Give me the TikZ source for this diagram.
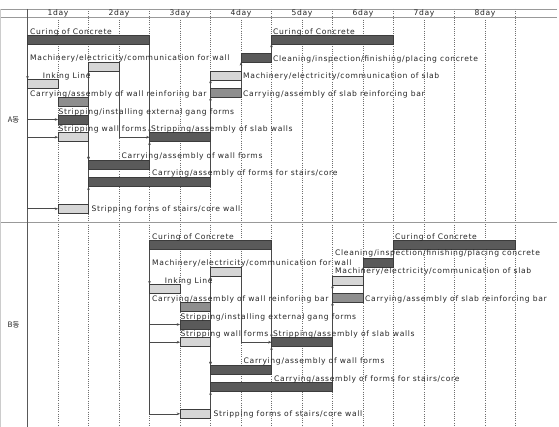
\documentclass[tikz,border=0pt]{standalone}
\usepackage{fontspec}
\setmainfont{DejaVu Sans}[LetterSpace=9]
\newfontfamily\krfont{Noto Sans CJK KR}
\usetikzlibrary{arrows.meta}
\definecolor{darkbar}{HTML}{5A5A5A}
\definecolor{midbar}{HTML}{8E8E8E}
\definecolor{lightbar}{HTML}{D6D6D6}
\definecolor{edgec}{HTML}{3C3C3C}
\definecolor{gridc}{HTML}{6E6E6E}
\definecolor{txtc}{HTML}{262626}
\definecolor{connc}{HTML}{4A4A4A}

\newcommand\gbar[5]{\node[taskbar,#5,minimum width={(#3-#2)*61pt},anchor=north west] (#1) at ({27.5+61*#2},#4) {};}
\newcommand\glabel[4]{\node[lbl] (#1) at (#2,#3) {#4};}

\newcommand\ganttconnectors{%
  \draw[conn] (machwall.south west) -- (stripstairs.east);
  \draw[conn] (curing1.south east) -- (wallforms.east);
  \draw[conn] (machslab.south west) -- (stairforms.east);
  \draw[conn] (cleaning.south west) -- (slabreinf.east);
  \draw[arr] (curing1.south west) -- (inking.north west);
  \draw[arr] (curing1.south west) |- (stripext.west);
  \draw[arr] (curing1.south west) |- (stripwall.west);
  \draw[arr] (curing1.south west) |- (stripstairs.west);
  \draw[arr] (wallreinf.north east) -- (machwall.south west);
  \draw[arr] (stripext.south east) -- (wallforms.north west);
  \draw[arr] (stripwall.south east) -- (wallforms.north west);
  \draw[arr] (stripstairs.east) -- (stairforms.south west);
  \draw[arr] (machwall.south east) |- (slabwalls.west);
  \draw[arr] (curing1.south east) -- (slabwalls.north west);
  \draw[arr] (wallforms.east) -- (slabwalls.south west);
  \draw[arr] (slabwalls.east) -- (machslab.south west);
  \draw[arr] (slabwalls.north east) -- (slabreinf.south west);
  \draw[arr] (slabreinf.east) -- (cleaning.south west);
  \draw[arr] (cleaning.south east) -- (curing2.south west);
}
\newcommand\ganttbars{%
  \gbar{curing1}{0}{2}{35}{darkfill}
  \gbar{curing2}{4}{6}{35}{darkfill}
  \gbar{cleaning}{3.5}{4}{53.3}{darkfill}
  \gbar{machwall}{1}{1.5}{62.3}{lightfill}
  \gbar{machslab}{3}{3.5}{71}{lightfill}
  \gbar{inking}{0}{0.5}{79.3}{lightfill}
  \gbar{slabreinf}{3}{3.5}{88.3}{midfill}
  \gbar{wallreinf}{0.5}{1}{97.3}{midfill}
  \gbar{stripext}{0.5}{1}{115}{darkfill}
  \gbar{stripwall}{0.5}{1}{132.7}{lightfill}
  \gbar{slabwalls}{2}{3}{132.7}{darkfill}
  \gbar{wallforms}{1}{2}{160}{darkfill}
  \gbar{stairforms}{1}{3}{177.7}{darkfill}
  \gbar{stripstairs}{0.5}{1}{204.3}{lightfill}
}
\newcommand\ganttlabels{%
  \glabel{l-curing1}{30}{34.3}{Curing of Concrete}
  \glabel{l-curing2}{273}{34.3}{Curing of Concrete}
  \glabel{l-machwall}{30}{61}{Machinery/electricity/communication for wall}
  \glabel{l-inking}{42.7}{79}{Inking Line}
  \glabel{l-wallreinf}{30}{96.5}{Carrying/assembly of wall reinforing bar}
  \glabel{l-stripext}{58.5}{114.5}{Stripping/installing external gang forms}
  \glabel{l-stripwall}{58.5}{132}{Stripping wall forms}
  \glabel{l-slabwalls}{151}{132}{Stripping/assembly of slab walls}
  \glabel{l-wallforms}{121.5}{158.3}{Carrying/assembly of wall forms}
  \glabel{l-stairforms}{152}{176}{Carrying/assembly of forms for stairs/core}
  \glabel{l-stripstairs}{91.5}{211.5}{Stripping forms of stairs/core wall}
  \glabel{l-slabreinf}{243}{96.3}{Carrying/assembly of slab reinforcing bar}
}

\begin{document}
\begin{tikzpicture}[x=1pt,y=-1pt,
  font=\fontsize{7.6}{9}\selectfont,
  taskbar/.style={draw=edgec,line width=0.6pt,inner sep=0pt,outer sep=0pt,minimum height=9pt},
  darkfill/.style={fill=darkbar},
  midfill/.style={fill=midbar},
  lightfill/.style={fill=lightbar},
  lbl/.style={anchor=base west,inner sep=0pt,text=txtc},
  hdr/.style={anchor=base,inner sep=0pt,text=txtc},
  sec/.style={inner sep=0pt,text=txtc,font=\krfont\fontsize{7.5}{9}\selectfont},
  conn/.style={draw=connc,line width=0.6pt},
  arr/.style={conn,-{Stealth[length=3.2pt,width=2.6pt]}},
  gridline/.style={draw=gridc,line width=0.5pt,dash pattern=on 1pt off 1.2pt},
  hline/.style={draw=gray!80,line width=0.7pt},
  frame/.style={draw=gray!70!black,line width=0.7pt}]
\useasboundingbox (0,0) rectangle (559,427);
\fill[white] (0,0) rectangle (559,427);

% grid
\foreach \k in {1,...,8} \draw[gridline] ({27.5+61*\k},9) -- ({27.5+61*\k},427);
\foreach \k in {0,...,7} \draw[gridline] ({27.5+61*(\k+0.5)},17.5) -- ({27.5+61*(\k+0.5)},427);
\draw[hline] (0,9) -- (557,9);
\draw[hline] (0,17.5) -- (557,17.5);
\draw[hline] (0,222.5) -- (557,222.5);
\draw[hline,draw=gray!40] (0.4,9) -- (0.4,427);
\draw[frame] (27.5,9) -- (27.5,427);

% header
\foreach \k in {1,...,8} \node[hdr] (h\k) at ({27.5+61*(\k-0.5)},15.5) {\k day};

% section labels
\node[sec] (secA) at (13.5,119.5) {A동};
\node[sec] (secB) at (13.5,324.5) {B동};

% block A
\begin{scope}
  \ganttbars
  \ganttconnectors
  \ganttbars
  \ganttlabels
  \glabel{l-cleaning}{273}{61.5}{Cleaning/inspection/finishing/placing concrete}
  \glabel{l-machslab}{243}{79}{Machinery/electricity/communication of slab}
\end{scope}

% block B
\begin{scope}[shift={(122,205)},name prefix=b-]
  \ganttbars
  \ganttconnectors
  \ganttbars
  \ganttlabels
  \glabel{l-cleaning}{213}{51}{Cleaning/inspection/finishing/placing concrete}
  \glabel{l-machslab}{213}{68.5}{Machinery/electricity/communication of slab}
\end{scope}
\end{tikzpicture}
\end{document}
